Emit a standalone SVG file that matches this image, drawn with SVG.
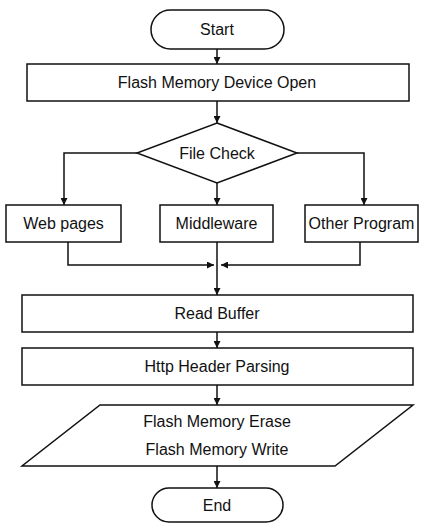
<svg xmlns="http://www.w3.org/2000/svg" width="421" height="524" viewBox="0 0 421 524">
<style>
.s{fill:#fff;stroke:#111;stroke-width:1.5}
.t{font-family:"Liberation Sans",Arial,sans-serif;font-size:16px;fill:#111;text-anchor:middle}
.c{fill:none;stroke:#111;stroke-width:1.5}
</style>
<defs>
<marker id="a" viewBox="0 0 10 10" refX="10" refY="5" markerWidth="7" markerHeight="7" markerUnits="userSpaceOnUse" orient="auto">
<path d="M0,0L10,5L0,10z" fill="#111"/>
</marker>
</defs>
<rect width="421" height="524" fill="#fff"/>
<g id="connectors">
<path class="c" d="M217,49V64" marker-end="url(#a)"/>
<path class="c" d="M217,101V123" marker-end="url(#a)"/>
<path class="c" d="M137,153H64V205" marker-end="url(#a)"/>
<path class="c" d="M217,183V205" marker-end="url(#a)"/>
<path class="c" d="M297,153H364V205" marker-end="url(#a)"/>
<path class="c" d="M68,242V265H214" marker-end="url(#a)"/>
<path class="c" d="M360,242V265H221" marker-end="url(#a)"/>
<path class="c" d="M217,242V295" marker-end="url(#a)"/>
<path class="c" d="M217,332V348" marker-end="url(#a)"/>
<path class="c" d="M217,385V405" marker-end="url(#a)"/>
<path class="c" d="M217,466V488" marker-end="url(#a)"/>
</g>
<g id="start">
<rect class="s" x="151" y="10" width="133" height="39" rx="19.5"/>
<text class="t" x="217" y="35">Start</text>
</g>
<g id="open">
<rect class="s" x="27" y="64" width="382" height="37"/>
<text class="t" x="217" y="88">Flash Memory Device Open</text>
</g>
<g id="filecheck">
<path class="s" d="M217,123L297,153L217,183L137,153z"/>
<text class="t" x="217" y="159">File Check</text>
</g>
<g id="webpages">
<rect class="s" x="6" y="205" width="115" height="37"/>
<text class="t" x="63.5" y="229">Web pages</text>
</g>
<g id="middleware">
<rect class="s" x="160" y="205" width="113" height="37"/>
<text class="t" x="216.5" y="229">Middleware</text>
</g>
<g id="otherprogram">
<rect class="s" x="305" y="205" width="113" height="37"/>
<text class="t" x="361.5" y="229">Other Program</text>
</g>
<g id="readbuffer">
<rect class="s" x="22" y="295" width="391" height="37"/>
<text class="t" x="217" y="319">Read Buffer</text>
</g>
<g id="http">
<rect class="s" x="22" y="348" width="391" height="37"/>
<text class="t" x="217" y="372">Http Header Parsing</text>
</g>
<g id="flashwrite">
<path class="s" d="M100,405H413L335,466H22z"/>
<text class="t" x="217" y="427">Flash Memory Erase</text>
<text class="t" x="217" y="455">Flash Memory Write</text>
</g>
<g id="end">
<rect class="s" x="152" y="488" width="131" height="34" rx="17"/>
<text class="t" x="217" y="511">End</text>
</g>
</svg>
